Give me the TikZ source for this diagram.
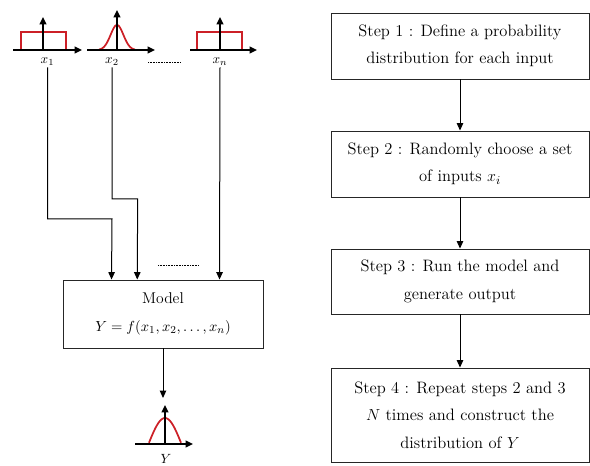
\documentclass[tikz,border=0pt]{standalone}
\usetikzlibrary{arrows.meta,calc}
\definecolor{curvered}{RGB}{204,32,39}
\begin{document}
\begin{tikzpicture}[x=0.75pt,y=-0.75pt,
  stepbox/.style={draw=black!85, line width=0.7pt, minimum width=193.5pt, align=center, inner sep=0pt, font=\fontsize{12.4}{20.6}\selectfont},
  arr/.style={-{Triangle[length=5.5pt,width=4.8pt]}, line width=0.75pt},
  axis/.style={-{Triangle[length=5.5pt,width=5pt]}, line width=1.4pt},
  dist/.style={draw=curvered, line width=1.3pt},
  lab/.style={font=\fontsize{10}{12}\selectfont, inner sep=1pt},
  dots/.style={line width=0.6pt, dash pattern=on 0.6pt off 0.6pt}]
\useasboundingbox (0,0) rectangle (590,466);

% flowchart on the right
\node[stepbox, minimum height=49.5pt] (s1) at (460,46) {Step 1 : Define a probability\\distribution for each input};
\node[stepbox, minimum height=49.5pt] (s2) at (460,164) {Step 2 : Randomly choose a set\\of inputs $x_i$};
\node[stepbox, minimum height=48.75pt] (s3) at (460,281.5) {Step 3 : Run the model and\\generate output};
\node[stepbox, minimum height=70.5pt] (s4) at (460,415) {Step 4 : Repeat steps 2 and 3\\$N$ times and construct the\\distribution of $Y$};
\draw[arr] (s1) -- (s2);
\draw[arr] (s2) -- (s3);
\draw[arr] (s3) -- (s4);

% input distributions
\draw[dist] (21,50) -- (21,32) -- (66,32) -- (66,50);
\draw[axis] (13,50) -- (82,50);
\draw[axis] (43,50) -- (43,17);

\draw[dist] plot[domain=99:135, samples=80] (\x, {50-25*exp(-(\x-117)*(\x-117)/82)});
\draw[axis] (87,50) -- (155,50);
\draw[axis] (117,50) -- (117,10);

\draw[dist] (197,50) -- (197,32) -- (242,32) -- (242,50);
\draw[axis] (190,50) -- (257,50);
\draw[axis] (220,50) -- (220,17);

\node[lab] (x1) at (47.5,62) {$x_1$};
\node[lab] (x2) at (112,62) {$x_2$};
\node[lab] (xn) at (220,62) {$x_n$};
\draw[dots] (148,62) -- (181,62);

% model
\node[stepbox, minimum width=150pt, minimum height=51pt, font=\fontsize{11.7}{20.6}\selectfont] (model) at (163,314) {Model\\{\fontsize{10.9}{20.6}\selectfont$Y=f(x_1,x_2,\ldots,x_n)$}};
\draw[dots] (158,265.7) -- (199,265.7);

\draw[arr] (x1.south) |- (112,219) -- ($(model.north west)+(49,0)$);
\draw[arr] (x2.south) |- (137.7,199) -- ($(model.north west)+(74.7,0)$);
\draw[arr] (xn.south) -- ($(model.north west)+(157,0)$);

% output distribution
\coordinate (yin) at (163,398);
\draw[arr] (model.south) -- (yin);
\draw[dist] plot[domain=149:181, samples=60] (\x, {444-26*cos((\x-165)*90/16.5)});
\draw[axis] (135,444) -- (193,444);
\draw[axis] (165,444) -- (165,405);
\node[lab] (ylab) at (166,459) {$Y$};
\end{tikzpicture}
\end{document}
